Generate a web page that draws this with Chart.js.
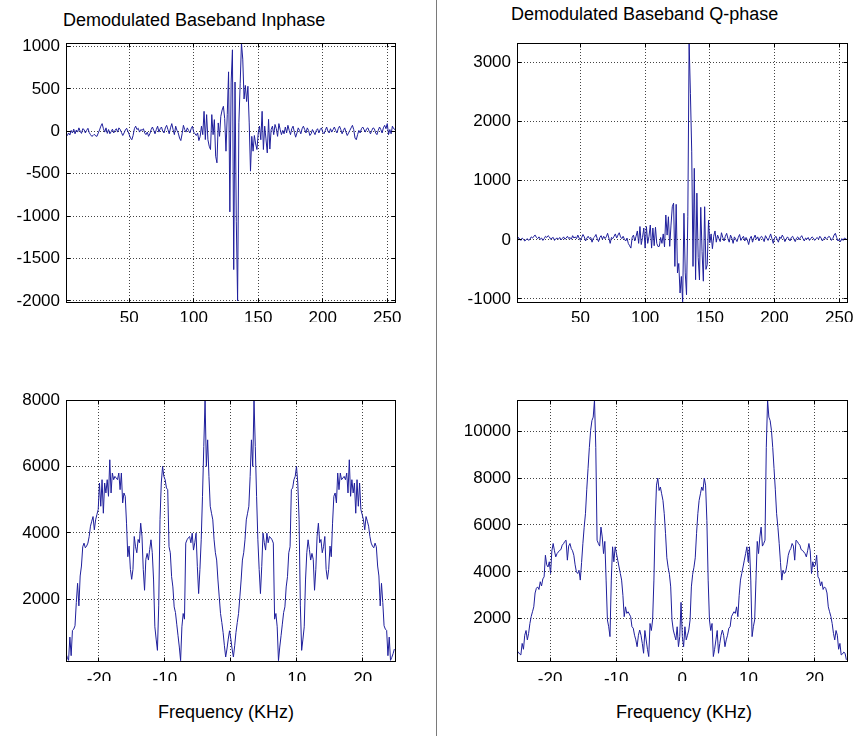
<!DOCTYPE html>
<html lang="en">
<head>
<meta charset="UTF-8">
<title>Demodulated Baseband</title>
<style>
  body { margin: 0; width: 855px; height: 736px; background: #fff; overflow: hidden; position: relative;
         font-family: "Liberation Sans", Arial, sans-serif; }
  canvas { position: absolute; }
  .lbl { position: absolute; font-size: 18px; line-height: 20px; white-space: nowrap; color: #000; }
  .divider { position: absolute; left: 436px; top: 0; width: 1px; height: 736px; background: #7a7a7a; }
</style>
</head>
<body>
<div class="divider"></div>
<div class="lbl" style="left:63px;top:10px">Demodulated Baseband Inphase</div>
<div class="lbl" style="left:511px;top:4px">Demodulated Baseband Q-phase</div>
<div class="lbl" style="left:158px;top:702px">Frequency (KHz)</div>
<div class="lbl" style="left:616px;top:702px">Frequency (KHz)</div>

<canvas id="inphaseChart" width="437" height="340" style="left:0;top:0"></canvas>
<canvas id="qphaseChart" width="430" height="340" style="left:440px;top:0"></canvas>
<canvas id="inphaseSpecChart" width="437" height="376" style="left:0;top:360px"></canvas>
<canvas id="qphaseSpecChart" width="430" height="376" style="left:440px;top:360px"></canvas>

<script src="https://cdn.jsdelivr.net/npm/chart.js@4.4.0/dist/chart.umd.min.js"></script>
<script>
// time samples (index 1..256)
var inphase = [
  -30, -50, -20, -45, 10, -20, 25, -30, 15, -10,
  40, 0, -25, 30, 20, -20, 10, 35, -15, -40,
  -60, -50, -35, -55, -60, -20, 15, 60, 90, 30,
  -10, 40, -25, 20, -30, -5, 25, -20, 10, 30,
  -10, 40, 20, -15, -50, -20, 15, 35, 0, -40,
  -80, -100, -50, 30, 60, 20, 35, -10, 20, 10,
  30, -20, -40, -10, -60, -30, 20, 50, 10, -30,
  20, 60, -10, 30, 50, 0, -20, 40, 70, 20,
  -30, 40, 90, 20, -40, 60, 10, -20, -80, -110,
  -30, 70, 20, -10, 40, 10, -20, 30, 60, -10,
  -30, -50, -20, -110, -60, 60, -40, 235, -98, 196,
  -100, -176, -215, 196, -40, 137, -294, -372, 98, -60,
  176, 250, 294, 150, -235, 200, 700, -950, 580, 960,
  -1630, 580, -1060, -2000, 100, 560, 1040, 850, 380, 540,
  350, 530, 98, -470, -60, -235, -50, -150, -215, -20,
  60, -100, 235, -215, 60, -90, -255, 140, -210, 20,
  60, -40, 80, 30, -60, 90, 20, -40, 10, -30,
  50, -20, 70, 10, -40, 30, 60, -10, -70, -20,
  40, 10, -30, 30, 60, 20, -20, 40, 10, -50,
  -30, 20, -10, -40, 10, 30, -20, 20, 40, -10,
  -30, 10, 50, 0, -20, 30, -10, 20, 50, 10,
  -20, 30, 60, 20, -30, 10, 40, -10, -50, -20,
  10, 40, 70, 20, -80, -100, -40, 10, -20, 30,
  50, 20, -10, 30, 40, 0, -30, 10, 40, 30,
  -20, -40, 10, 50, 20, -20, 40, 70, 30, 90,
  -40, 20, -30, 60, 30, 20
];

var qphase = [
  -60, 40, 20, -10, 30, 10, -20, 0, 20, -10,
  10, 50, 30, 60, 80, 40, 20, 50, 10, 30,
  -10, 20, 60, 40, 70, 50, 10, 30, 40, -10,
  20, 30, 10, 40, 0, 20, 50, 10, 30, 60,
  20, 40, 10, 70, 30, 50, 20, 80, 30, -10,
  40, 90, 50, -20, 30, 60, 20, 40, -40, 30,
  50, 90, 20, -30, 40, 70, 10, 60, 20, 50,
  110, 30, -60, 40, 20, 60, 100, 30, 80, 120,
  50, 20, 60, 10, -20, 30, -60, -100, -140, 40,
  80, -20, 60, 150, -60, 225, -80, 40, 200, -140,
  225, -60, 60, 250, -140, 200, -100, 213, -60, -115,
  -110, 40, -60, 100, -120, 420, 80, 390, -110, 250,
  560, 620, -450, 600, -560, -400, -900, -620, -1050, 450,
  -560, -930, 400, 3330, 2480, 1500, -450, 1210, -675, 790,
  -300, -680, 550, -200, -700, 560, -500, -420, 330, -50,
  100, -150, 60, 150, -40, 80, 20, -30, 120, 40,
  -20, 60, 110, 20, -40, 80, 30, -60, 50, 10,
  -30, 40, 90, -10, 30, 60, -20, 40, 0, -80,
  20, 60, -40, 30, 80, 10, 50, -20, 40, 60,
  20, -30, 70, 30, -10, 40, 100, 20, -60, 30,
  60, 10, -40, 50, 20, 80, 40, -30, 10, 50,
  20, -20, 40, 60, 10, -30, 30, 50, 0, 40,
  70, 20, -20, 30, 10, 40, -10, 20, 50, 30,
  -10, 20, 40, 10, 60, 30, -20, 20, 50, 10,
  30, 60, 40, -10, 20, 80, 110, 40, -20, 10,
  -30, 20, -10, 30, 20, 0
];

// spectrum magnitudes, 256 bins from -25 kHz
var inphaseSpec = [
  360, 250, 160, 860, 300, 1060, 1100, 1200, 1900, 2480,
  1800, 2700, 3000, 3580, 3690, 3550, 3600, 3690, 3890, 4200,
  4350, 4490, 4090, 4390, 4550, 4700, 5500, 4800, 5600, 4590,
  5500, 5200, 5600, 5100, 6200, 5200, 5800, 5600, 5700, 5650,
  5600, 5800, 5300, 5800, 4900, 5200, 5100, 4290, 3280, 3600,
  2900, 2600, 2900, 3890, 3580, 3400, 3800, 3700, 4290, 3900,
  2900, 2270, 3200, 3380, 3180, 3500, 3790, 3400, 2580, 1170,
  800, 460, 1800, 4400, 5500, 6000, 5700, 5600, 5350, 5300,
  3580, 3400, 2680, 2370, 1770, 1600, 1250, 900, 560, 150,
  1170, 1570, 1400, 3690, 3790, 3850, 3890, 3700, 3990, 3480,
  3700, 3990, 2980, 2170, 2900, 3790, 5100, 6600, 8000, 6000,
  6800, 5700, 4800, 4590, 4390, 3790, 3400, 3180, 2580, 2070,
  1570, 1300, 1000, 600, 260, 500, 800, 1050,
  800, 500, 260, 600, 1000, 1300, 1570, 2070, 2580, 3180,
  3400, 3790, 4390, 4590, 4800, 5700, 6800, 6000, 8000, 6600,
  5100, 3790, 2900, 2170, 2980, 3990, 3700, 3480, 3990, 3700,
  3890, 3850, 3790, 3690, 1400, 1570, 1170, 150, 560, 900,
  1250, 1600, 1770, 2370, 2680, 3400, 3580, 5300, 5350, 5600,
  5700, 6000, 5500, 4400, 1800, 460, 800, 1170, 2580, 3400,
  3790, 3500, 3180, 3380, 3200, 2270, 2900, 3900, 4290, 3700,
  3800, 3400, 3580, 3890, 2900, 2600, 2900, 3600, 3280, 4290,
  5100, 5200, 4900, 5800, 5300, 5800, 5600, 5650, 5700, 5600,
  5800, 5200, 6200, 5100, 5600, 5200, 5500, 4590, 5600, 4800,
  5500, 4700, 4550, 4390, 4090, 4490, 4350, 4200, 3890, 3690,
  3600, 3550, 3690, 3580, 3000, 2700, 1800, 2480, 1900, 1200,
  1100, 1060, 300, 860, 160, 250, 360, 500
];

var qphaseSpec = [
  530, 580, 500, 460, 950, 700, 1300, 1500, 1100, 1380,
  1800, 2100, 2300, 2510, 3100, 3300, 3360, 3250, 3580, 3400,
  3700, 3790, 4710, 4300, 4210, 4430, 3930, 4900, 5210, 4900,
  4640, 4780, 4850, 4920, 4950, 5140, 5200, 5300, 5350, 4500,
  5100, 5210, 5000, 4900, 4710, 4300, 4000, 3930, 4070, 3650,
  4400, 5200, 5900, 6480, 7500, 8400, 9300, 10030, 10450, 10600,
  11330, 9300, 5350, 5210, 5100, 5910, 5490, 4780, 5300, 3650,
  1950, 1660, 1240, 3650, 5070, 4430, 5070, 4780, 4500, 4210,
  3930, 3650, 3000, 2090, 2510, 2230, 2300, 2200, 2090, 1660,
  1600, 1300, 1100, 810, 1300, 1520, 1300, 950, 530, 1500,
  1100, 700, 390, 1800, 1500, 1950, 3650, 6200, 7700, 8000,
  7470, 7620, 7330, 7050, 6480, 5630, 4600, 4200, 3900, 3360,
  1950, 1520, 1300, 1100, 1660, 810, 1240, 2700,
  1240, 810, 1660, 1100, 1300, 1520, 1950, 3360, 3900, 4200,
  4600, 5630, 6480, 7050, 7330, 7620, 7470, 8000, 7700, 6200,
  3650, 1950, 1500, 1800, 390, 700, 1100, 1500, 530, 950,
  1300, 1520, 1300, 810, 1100, 1300, 1600, 1660, 2090, 2200,
  2300, 2230, 2510, 2090, 3000, 3650, 3930, 4210, 4500, 4780,
  5070, 4430, 5070, 3650, 1240, 1660, 1950, 3650, 5300, 4780,
  5490, 5910, 5100, 5210, 5350, 9300, 11330, 10600, 10450, 10030,
  9300, 8400, 7500, 6480, 5900, 5200, 4400, 3650, 4070, 3930,
  4000, 4300, 4710, 4900, 5000, 5210, 5100, 4500, 5350, 5300,
  5200, 5140, 4950, 4920, 4850, 4780, 4640, 4900, 5210, 4900,
  3930, 4430, 4210, 4300, 4710, 3790, 3700, 3400, 3580, 3250,
  3360, 3300, 3100, 2510, 2300, 2100, 1800, 1380, 1100, 1500,
  1300, 700, 950, 460, 500, 580, 530, 250
];

var sampleTicks = [50, 100, 150, 200, 250];
var freqTicks = [-20, -10, 0, 10, 20];
var inphaseTicks = [-2000, -1500, -1000, -500, 0, 500, 1000];
var qphaseTicks = [-1000, 0, 1000, 2000, 3000];
var inphaseSpecTicks = [2000, 4000, 6000, 8000];
var qphaseSpecTicks = [2000, 4000, 6000, 8000, 10000];

var freqStart = -25;
var freqStep = 50 / 256;

var samples = inphase.map(function(v, i) { return i + 1; });
var freqs = inphaseSpec.map(function(v, k) { return freqStart + k * freqStep; });

Chart.defaults.color = '#000';
Chart.defaults.font.family = '"Liberation Sans", Arial, sans-serif';
Chart.defaults.font.size = 17;

function align(p) { return Math.round(p - 0.5) + 0.5; }

// MATLAB-style box with inward ticks
var framePlugin = {
    id: 'frame',
    afterDraw: function(chart) {
        var a = chart.chartArea;
        var ctx = chart.ctx;
        var l = align(a.left), r = align(a.right), t = align(a.top), b = align(a.bottom);
        ctx.save();
        ctx.strokeStyle = '#000';
        ctx.lineWidth = 1;
        ctx.strokeRect(l, t, r - l, b - t);
        ctx.beginPath();
        chart.scales.x.ticks.forEach(function(tk) {
            var px = align(chart.scales.x.getPixelForValue(tk.value));
            ctx.moveTo(px, b); ctx.lineTo(px, b - 4);
            ctx.moveTo(px, t); ctx.lineTo(px, t + 4);
        });
        chart.scales.y.ticks.forEach(function(tk) {
            var py = align(chart.scales.y.getPixelForValue(tk.value));
            ctx.moveTo(l, py); ctx.lineTo(l + 4, py);
            ctx.moveTo(r, py); ctx.lineTo(r - 4, py);
        });
        ctx.stroke();
        ctx.restore();
    }
};

function makeChart(id, xs, ys, xMin, xMax, yMin, yMax, xTicks, yTicks, area, labelPad) {
    var canvas = document.getElementById(id);
    var w = canvas.width, h = canvas.height;
    var points = ys.map(function(v, i) { return {x: xs[i], y: v}; });
    return new Chart(canvas.getContext('2d'), {
        type: 'line',
        data: {
            datasets: [{
                data: points,
                borderColor: '#1f1f9c',
                borderWidth: 1,
                pointRadius: 0,
                tension: 0,
                fill: false
            }]
        },
        options: {
            responsive: false,
            animation: false,
            events: [],
            layout: { padding: { left: 0, top: area.top, right: w - area.right, bottom: h - area.bottom - 20 } },
            plugins: { legend: { display: false }, tooltip: { enabled: false } },
            scales: {
                x: {
                    type: 'linear',
                    min: xMin, max: xMax,
                    afterBuildTicks: function(s) { s.ticks = xTicks.map(function(v) { return {value: v}; }); },
                    afterFit: function(s) { s.height = 20; },
                    grid: { color: '#444', drawTicks: false },
                    border: { color: '#000', width: 1, dash: [1, 2] },
                    ticks: { padding: labelPad, maxRotation: 0, callback: function(v) { return String(v); } }
                },
                y: {
                    type: 'linear',
                    min: yMin, max: yMax,
                    afterBuildTicks: function(s) { s.ticks = yTicks.map(function(v) { return {value: v}; }); },
                    afterFit: function(s) { s.width = area.left; },
                    grid: { color: '#444', drawTicks: false },
                    border: { color: '#000', width: 1, dash: [1, 2] },
                    ticks: { padding: 6, callback: function(v) { return String(v); } }
                }
            }
        },
        plugins: [framePlugin]
    });
}

makeChart('inphaseChart', samples, inphase, 1, 256, -2012, 1040, sampleTicks, inphaseTicks,
    {left: 66, top: 43, right: 395, bottom: 302}, 6);
makeChart('qphaseChart', samples, qphase, 1, 256, -1052, 3330, sampleTicks, qphaseTicks,
    {left: 77, top: 43, right: 407, bottom: 302}, 6);
makeChart('inphaseSpecChart', freqs, inphaseSpec, -25, 24.9, 140, 8000, freqTicks, inphaseSpecTicks,
    {left: 66, top: 40, right: 395, bottom: 301}, 8);
makeChart('qphaseSpecChart', freqs, qphaseSpec, -25, 24.9, 200, 11330, freqTicks, qphaseSpecTicks,
    {left: 77, top: 40, right: 407, bottom: 301}, 8);
</script>
</body>
</html>
